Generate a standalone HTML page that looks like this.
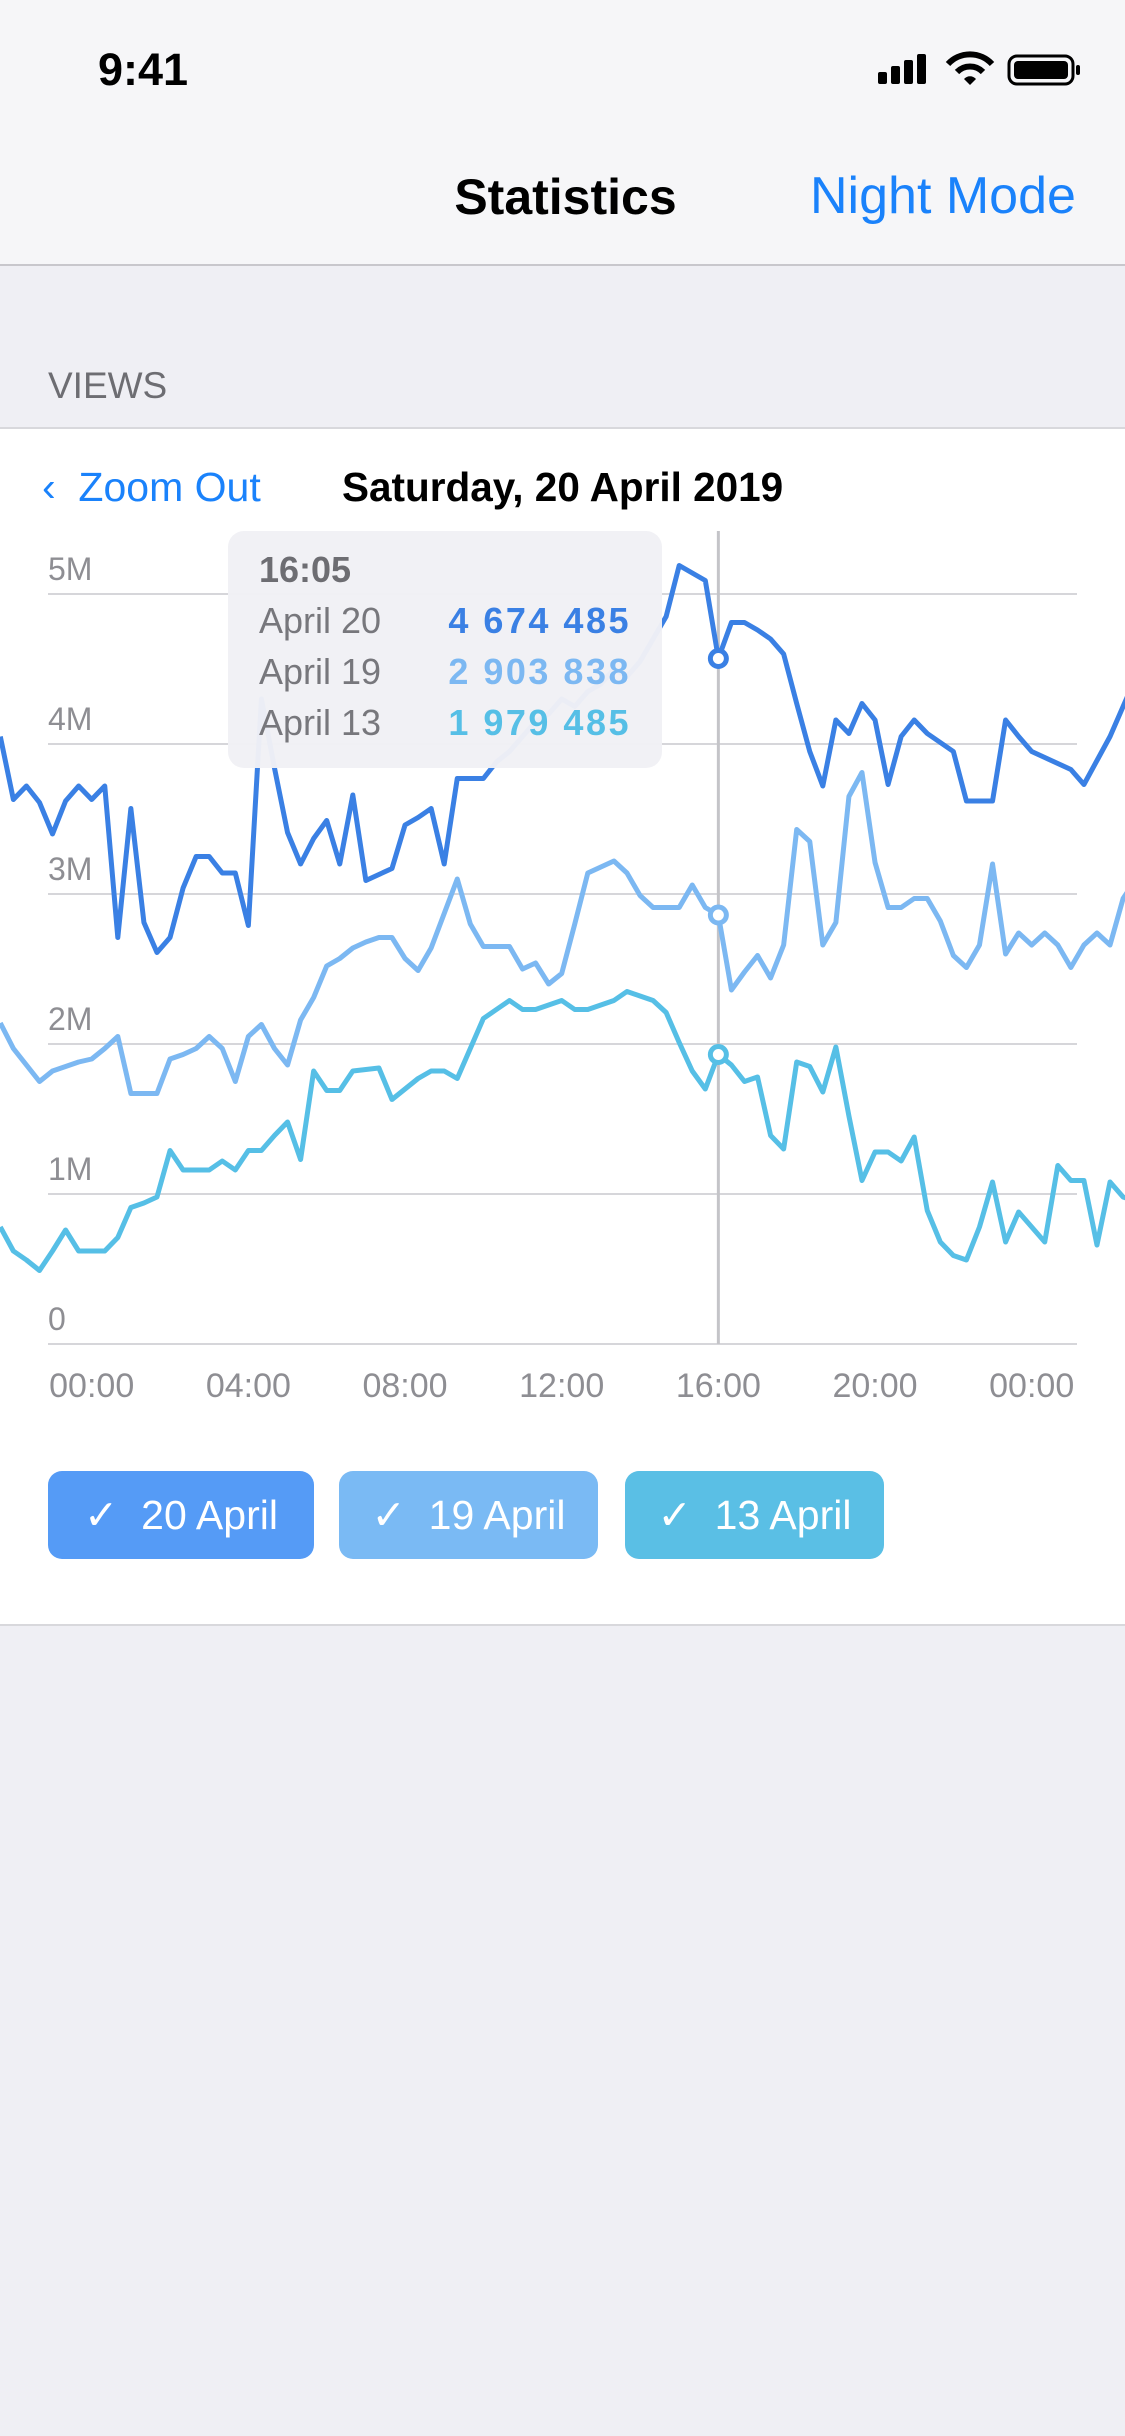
<!DOCTYPE html>
<html><head><meta charset="utf-8">
<style>
body{margin:0;width:1125px;height:2436px;position:relative;background:#efeff4;font-family:"Liberation Sans",sans-serif;overflow:hidden}
.abs{position:absolute}
.btn{position:absolute;top:1471px;height:88px;border-radius:14px;color:#fff;font-size:41px;line-height:88px;text-align:center}
</style></head><body>
<div class="abs" style="left:0;top:0;width:1125px;height:264px;background:#f6f6f8;border-bottom:2px solid #c8c7cc"></div>
<div class="abs" style="left:98px;top:44px;font-size:45px;font-weight:bold;color:#000">9:41</div>
<svg class="abs" style="left:870px;top:50px" width="220" height="40">
<rect x="8" y="22" width="9" height="12" rx="2" fill="#000"/><rect x="21" y="16" width="9" height="18" rx="2" fill="#000"/><rect x="34" y="10" width="9" height="24" rx="2" fill="#000"/><rect x="47" y="4" width="9" height="30" rx="2" fill="#000"/>
<path d="M78 14 A30 30 0 0 1 122 14" stroke="#000" stroke-width="6" fill="none"/><path d="M87 22 A18 18 0 0 1 113 22" stroke="#000" stroke-width="6" fill="none"/><path d="M94 29 L100 35 L106 29 A8 8 0 0 0 94 29Z" fill="#000"/>
<rect x="139" y="6" width="64" height="28" rx="8" stroke="#000" stroke-width="3" fill="none"/><rect x="144" y="11" width="54" height="18" rx="4" fill="#000"/><rect x="206" y="15" width="4" height="10" rx="2" fill="#000"/>
</svg>
<div class="abs" style="left:0;width:1125px;top:168px;text-align:center;font-size:50px;font-weight:bold;color:#000"><span style="position:relative;left:3px">Statistics</span></div>
<div class="abs" style="left:810px;top:166px;font-size:52px;color:#1a82fb">Night Mode</div>
<div class="abs" style="left:48px;top:365px;font-size:37px;color:#6d6d72">VIEWS</div>
<div class="abs" style="left:0;top:427px;width:1125px;height:1195px;background:#fff;border-top:2px solid #d8d8dc;border-bottom:2px solid #d8d8dc"></div>
<div class="abs" style="left:42px;top:464px;font-size:41px;color:#1a82fb">&#8249;&nbsp; Zoom Out</div>
<div class="abs" style="left:342px;top:464px;font-size:40.5px;font-weight:bold;color:#000">Saturday, 20 April 2019</div>
<svg class="abs" id="chart" style="left:0;top:0" width="1125" height="1440"></svg>
<div class="btn" style="left:48px;width:266px;background:#559bf6">✓&nbsp; 20 April</div>
<div class="btn" style="left:339px;width:259px;background:#7abaf4">✓&nbsp; 19 April</div>
<div class="btn" style="left:625px;width:259px;background:#5abfe5">✓&nbsp; 13 April</div>
<script>
const startMin = -140, stepMin = 20;
const april20 = [4.05,3.63,3.72,3.61,3.40,3.62,3.72,3.63,3.72,2.71,3.57,2.81,2.61,2.71,3.04,3.25,3.25,3.14,3.14,2.79,4.30,3.84,3.41,3.20,3.37,3.49,3.20,3.66,3.09,3.13,3.17,3.46,3.51,3.57,3.20,3.77,3.77,3.77,3.88,3.95,4.05,4.15,4.20,4.30,4.25,4.35,4.40,4.50,4.45,4.55,4.70,4.85,5.19,5.14,5.09,4.57,4.81,4.81,4.76,4.70,4.60,4.27,3.95,3.72,4.16,4.07,4.27,4.16,3.73,4.05,4.16,4.07,4.01,3.95,3.62,3.62,3.62,4.16,4.05,3.95,3.91,3.87,3.83,3.73,3.89,4.05,4.25,4.45];
const april19 = [2.14,1.97,1.86,1.75,1.82,1.85,1.88,1.90,1.97,2.05,1.67,1.67,1.67,1.90,1.93,1.97,2.05,1.97,1.75,2.05,2.13,1.97,1.86,2.16,2.31,2.52,2.57,2.64,2.68,2.71,2.71,2.57,2.49,2.64,2.87,3.10,2.80,2.65,2.65,2.65,2.50,2.54,2.40,2.47,2.80,3.14,3.18,3.22,3.14,2.99,2.91,2.91,2.91,3.06,2.91,2.86,2.36,2.48,2.59,2.44,2.66,3.43,3.35,2.66,2.81,3.65,3.81,3.21,2.91,2.91,2.97,2.97,2.82,2.59,2.51,2.66,3.20,2.60,2.74,2.66,2.74,2.66,2.51,2.66,2.74,2.66,2.97,3.10];
const april13 = [0.78,0.62,0.56,0.49,0.62,0.76,0.62,0.62,0.62,0.71,0.91,0.94,0.98,1.29,1.16,1.16,1.16,1.22,1.16,1.29,1.29,1.39,1.48,1.23,1.82,1.69,1.69,1.82,1.83,1.84,1.63,1.70,1.77,1.82,1.82,1.77,1.97,2.17,2.23,2.29,2.23,2.23,2.26,2.29,2.23,2.23,2.26,2.29,2.35,2.32,2.29,2.21,2.01,1.82,1.70,1.93,1.86,1.75,1.78,1.39,1.30,1.88,1.85,1.68,1.98,1.52,1.09,1.28,1.28,1.22,1.38,0.89,0.68,0.59,0.56,0.78,1.08,0.68,0.88,0.78,0.68,1.19,1.09,1.09,0.66,1.08,0.98,0.95];
const yTicks = [0,1,2,3,4,5];
const yTickLabels = ["0","1M","2M","3M","4M","5M"];
const xTickMins = [0,240,480,720,960,1200,1440];
const xTickLabels = ["00:00","04:00","08:00","12:00","16:00","20:00","00:00"];
const hoverIndex = 55;
const tooltipTime = "16:05";
const tooltipNames = ["April 20","April 19","April 13"];
const tooltipValues = ["4 674 485","2 903 838","1 979 485"];
const colors = ["#3a80e4","#7cb8f2","#56bfe6"];
const NS="http://www.w3.org/2000/svg";
const svg=document.getElementById('chart');
const xOf=m=>91.7+m*(940/1440);
const yOf=v=>1344-v*150;
const minOf=i=>startMin+i*stepMin;
function mk(tag,attrs,parent){const e=document.createElementNS(NS,tag);for(const k in attrs)e.setAttribute(k,attrs[k]);(parent||svg).appendChild(e);return e;}
yTicks.forEach((v,i)=>{
  const l=mk('line',{x1:48,x2:1077,y1:yOf(v),y2:yOf(v),stroke:'#d6d6da','stroke-width':2});
  
  
  const t=mk('text',{x:48,y:yOf(v)-14,'font-size':32,fill:'#8e8e93','font-family':'Liberation Sans'});
  t.textContent=yTickLabels[i];
  
  
});
xTickMins.forEach((m,i)=>{
  const t=mk('text',{x:xOf(m),y:1397,'font-size':34,fill:'#8e8e93','text-anchor':'middle','font-family':'Liberation Sans'});
  t.textContent=xTickLabels[i];
  
  
});
const hx=xOf(minOf(hoverIndex));
const vl=mk('line',{x1:hx,x2:hx,y1:531,y2:1344,stroke:'#c4c4c8','stroke-width':3});


const series=[april20,april19,april13];
const names=['series-april-20','series-april-19','series-april-13'];
series.forEach((s,k)=>{
  const p=mk('polyline',{points:s.map((v,i)=>xOf(minOf(i))+','+yOf(v)).join(' '),fill:'none',stroke:colors[k],'stroke-width':5,'stroke-linejoin':'round'});
  
  
});
series.forEach((s,k)=>{
  const c=mk('circle',{cx:hx,cy:yOf(s[hoverIndex]),r:8,fill:'#fff',stroke:colors[k],'stroke-width':5});
  
  
});
const g=mk('g',{});


mk('rect',{x:228,y:531,width:434,height:237,rx:16,fill:'#f1f1f5','fill-opacity':0.97},g);
const tt=mk('text',{x:259,y:582,'font-size':36,'font-weight':'bold',fill:'#6d6d72','font-family':'Liberation Sans'},g);
tt.textContent=tooltipTime;
tooltipNames.forEach((n,k)=>{
  const a=mk('text',{x:259,y:633+k*51,'font-size':36,fill:'#77777c','font-family':'Liberation Sans'},g);
  a.textContent=n;
  const b=mk('text',{x:631,y:633+k*51,'font-size':36,'font-weight':'bold',fill:colors[k],'text-anchor':'end','letter-spacing':'2.5','font-family':'Liberation Sans'},g);
  b.textContent=tooltipValues[k];
});
</script>
</body></html>
